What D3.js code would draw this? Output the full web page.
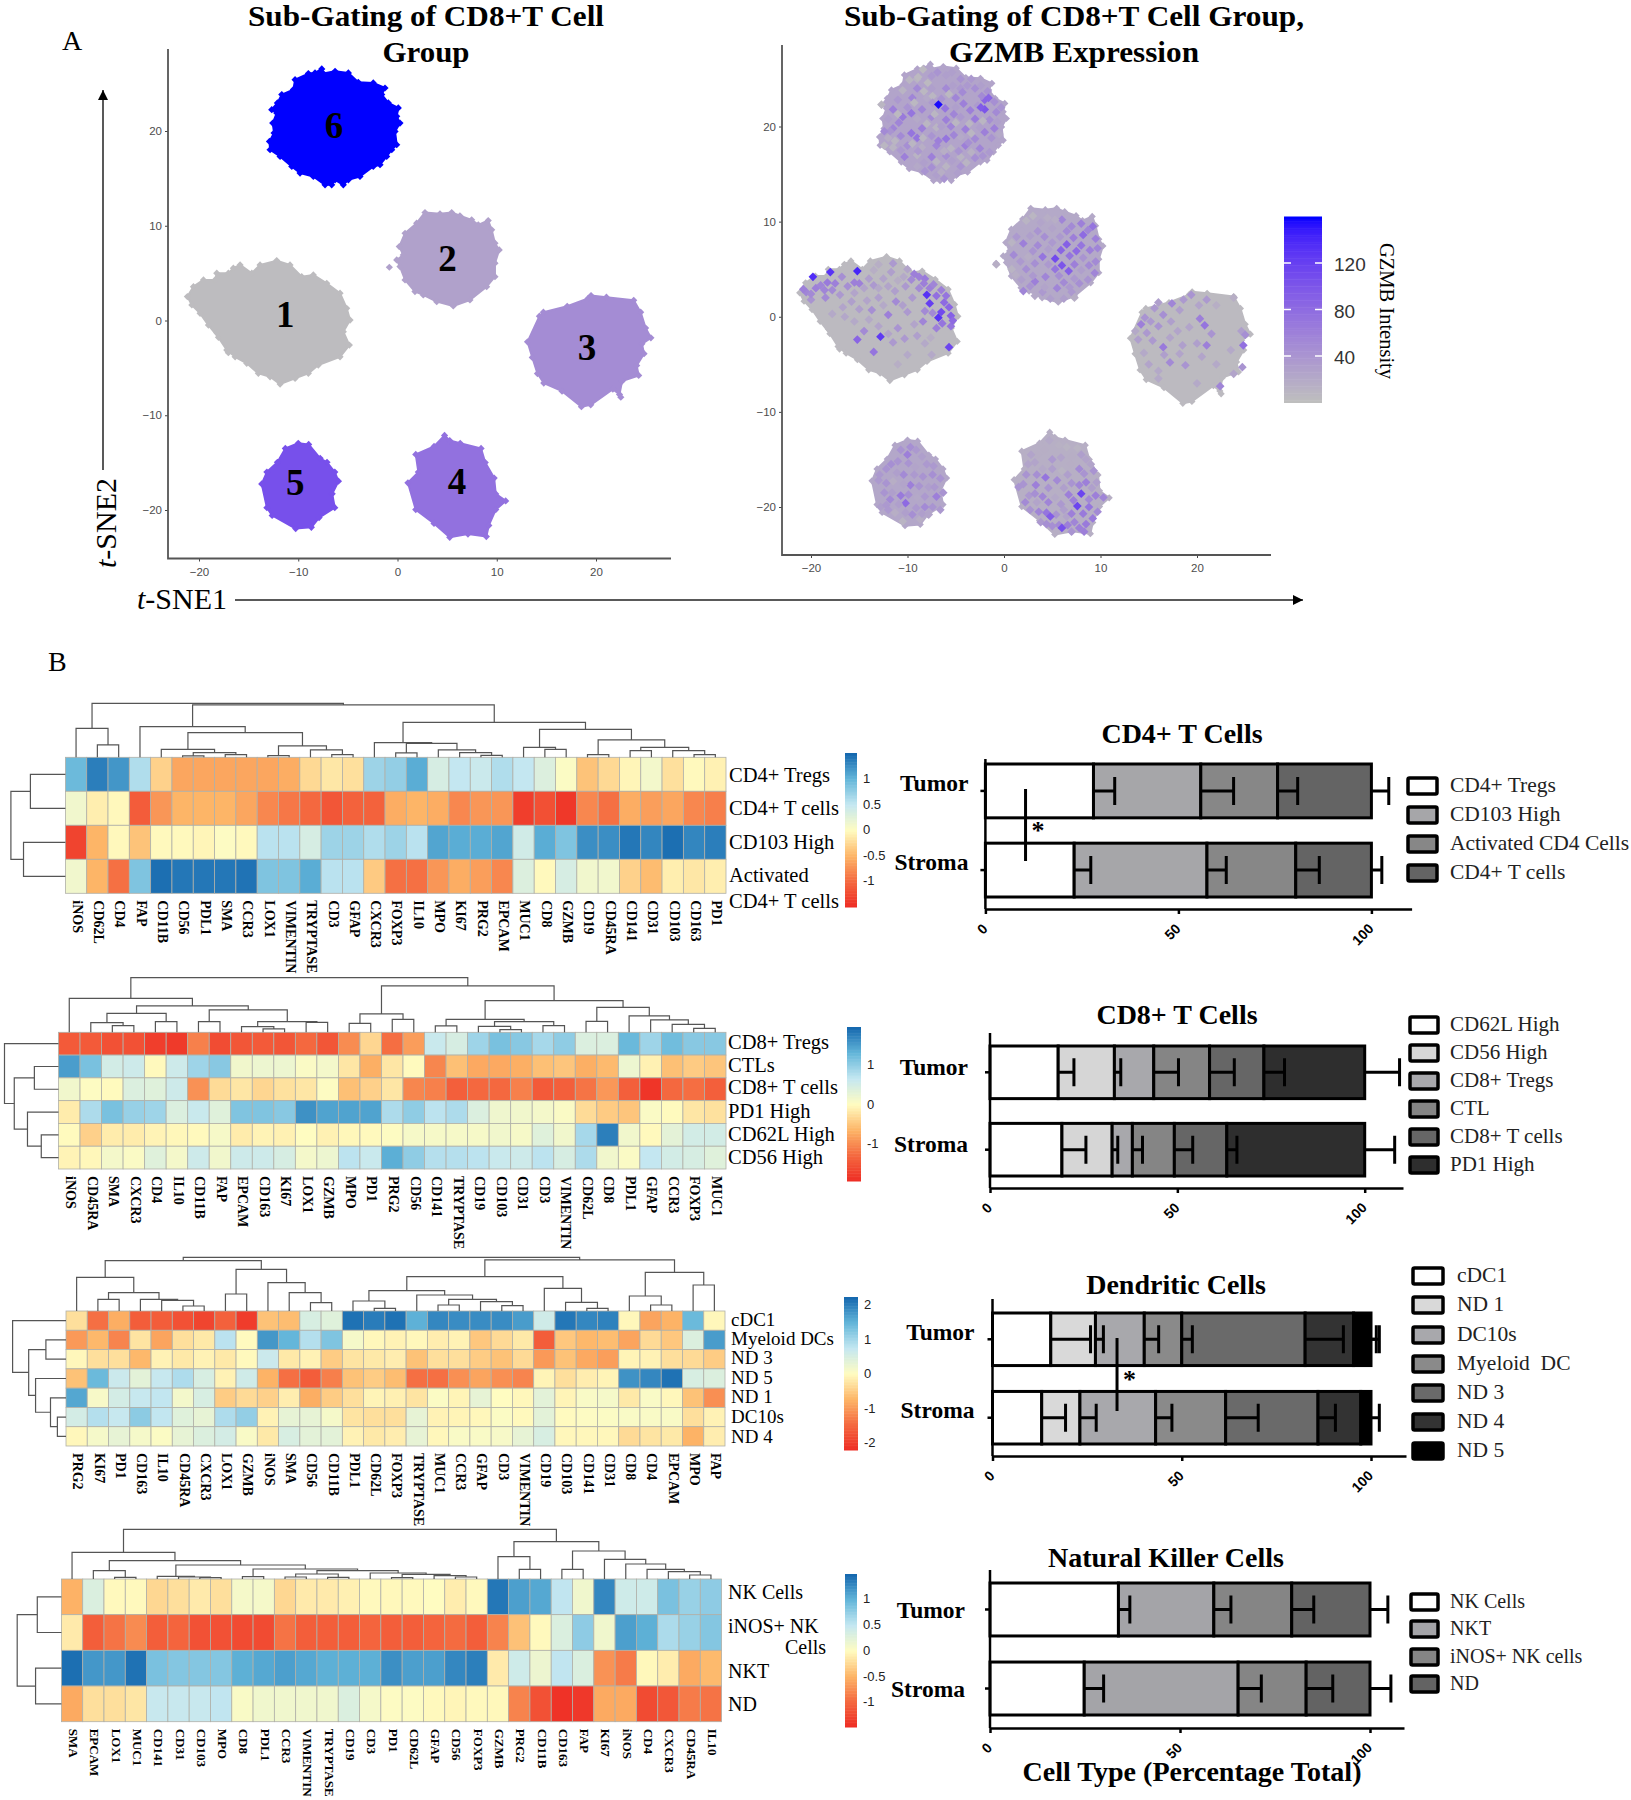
<!DOCTYPE html>
<html>
<head>
<meta charset="utf-8">
<title>CD8+ T cell sub-gating</title>
<script src="https://cdn.jsdelivr.net/npm/d3@7"></script>
<style>
body { margin: 0; background: #fff; }
text { font-family: "Liberation Serif", serif; fill: #000; }
.sans text, text.sans { font-family: "Liberation Sans", sans-serif; }
</style>
</head>
<body>
<svg id="fig" width="1631" height="1800"></svg>
<script>
// ---- panel A: t-SNE clusters, outlines (t-SNE1, t-SNE2)
const clusterOrder = [1, 2, 3, 4, 5, 6];
const outline1 = [[-21.17,2.52],[-20.56,3.57],[-19.55,4.28],[-18.38,4.28],[-18.21,4.99],[-17.04,4.99],[-16.54,5.52],[-15.86,5.87],[-14.68,4.99],[-13.85,5.87],[-12.17,6.32],[-10.83,5.87],[-9.65,4.63],[-8.48,4.81],[-7.13,3.93],[-5.79,2.88],[-5.12,1.29],[-4.78,0.05],[-5.46,-1.18],[-4.85,-2.59],[-5.79,-3.83],[-7.98,-4.7],[-8.98,-5.58],[-10.32,-6.11],[-11.83,-6.71],[-12.84,-5.94],[-14.02,-5.58],[-15.19,-4.52],[-16.36,-3.83],[-17.2,-3.12],[-18.04,-1.78],[-19.05,-0.48],[-19.89,0.76],[-20.72,1.64]];
const outline2 = [[2.77,11.4],[4.28,11.26],[5.46,11.4],[6.29,11.05],[7.47,10.62],[8.14,10.1],[9.14,10.55],[9.49,9.57],[9.82,8.16],[10.25,7.45],[9.82,6.05],[9.82,4.63],[8.98,3.57],[7.3,2.17],[5.62,1.53],[3.95,1.99],[2.6,2.7],[1.76,3.05],[0.76,4.28],[0.25,5.69],[-0.08,6.39],[0.58,6.92],[0.18,7.8],[0.76,9.21],[1.93,10.27]];
const outline3 = [[13.1,-2.25],[14.3,0.46],[14.7,0.88],[17.1,1.5],[19.2,2.33],[19.5,2.63],[21.05,2.46],[23.8,2.13],[24.5,0.88],[25,-0.79],[25.53,-1.83],[24.63,-2.46],[24.84,-3.5],[24.1,-4.75],[24.3,-5.8],[22.63,-6.4],[22.37,-7.8],[21.7,-7.25],[19.47,-8.9],[18.53,-9.1],[16.58,-7.46],[14.74,-6.6],[14.1,-5.6],[13.58,-3.9]];
const outline4 = [[4.74,-12.13],[5.26,-12.67],[6.32,-12.96],[8.42,-13.5],[8.84,-15],[9.74,-16.63],[9.9,-18.3],[10.9,-19.04],[9.9,-19.96],[9.2,-21.63],[8.95,-22.8],[7.1,-22.54],[5.26,-22.88],[3.68,-21.42],[1.84,-19.96],[1.05,-17.13],[2.1,-16],[1.84,-14.13],[3.68,-13.29]];
const outline5 = [[-10,-12.96],[-8.95,-13.08],[-7.79,-14.54],[-7.1,-14.96],[-6.32,-16],[-5.95,-16.96],[-6.58,-18.29],[-6.32,-19.75],[-7.9,-20.8],[-8.68,-21.83],[-10.26,-21.96],[-12.63,-20.58],[-13.16,-19.75],[-13.68,-17.25],[-13.16,-16],[-12.1,-14.96],[-11.3,-13.5]];
const outline6 = [[-7.63,26.55],[-7.47,26.06],[-6.29,26.3],[-4.95,26.13],[-3.95,25.14],[-2.44,25.07],[-1.26,24.54],[-1.59,23.84],[-0.92,22.96],[0.08,22.43],[-0.08,21.55],[0.25,20.84],[-0.25,19.96],[-0.08,18.55],[-0.58,18.02],[-1.09,17.32],[-1.76,16.44],[-2.44,16.26],[-3.78,15.2],[-4.95,14.85],[-5.46,14.32],[-6.29,14.85],[-6.63,14.32],[-7.3,14.32],[-8.48,15.2],[-9.82,15.56],[-10.65,16.26],[-11.83,17.32],[-12.84,18.02],[-12.9,18.9],[-12.44,19.79],[-12.57,20.84],[-12.17,21.9],[-12.67,22.25],[-12.1,22.96],[-11.66,23.84],[-10.49,24.37],[-10.32,25.42],[-8.98,26.06],[-8.31,26.13]];
const clusterOutlines = [outline1, outline2, outline3, outline4, outline5, outline6];
const clusterStrays = [[[-17.04,-3.4],[-18.2,-1.3]], [[-0.82,5.62]], [[22.5,-8.1]], [], [], []];
const clusterGzmb = [2, 28, 48, 74, 105, 158];       // cluster colour on the GZMB ramp
const clusterBaseGzmb = [4, 20, 4, 14, 22, 25];      // background tone, right hand map
const clusterLabelPos = [[-11.3,0.45],[5.05,6.3],[19.1,-3.1],[6,-17.25],[-10.3,-17.3],[-6.4,20.4]];

// GZMB spots seen in the right hand map: x, y, intensity
const spots1 = [[-20.5,2.6,55],[-19.5,3,60],[-18.3,3.6,65],[-16.8,4.2,45],[-15.5,3.6,60],[-14,4,30],[-20,1.8,40],[-18.5,2,50],[-17,2.3,35],[-15.5,2.5,25],[-13,5.5,15],[-11.5,5.6,35],[-10,5,25],[-12.5,4,25],[-11,3.8,15],[-9.3,4.5,60],[-8.2,4,65],[-7.7,3,60],[-7,2.2,75],[-6.2,1.5,80],[-5.5,0.1,90],[-5.5,-1,70],[-7,-1.2,60],[-8.8,3,50],[-9.5,2,35],[-13,2,30],[-11.2,1.6,50],[-13.7,0.7,45],[-12,0.2,60],[-10,0.5,35],[-15,0.8,30],[-16.7,1,25],[-17.8,0.3,20],[-15.5,-0.5,20],[-14.5,-1.5,50],[-13,-1,25],[-11,-1.2,40],[-9.3,-0.8,25],[-11.5,-2.7,35],[-8.2,-2.8,20],[-13.5,-3.7,70],[-10,-4,20],[-7.5,-4,20],[-11,-5,15],
  [-20.8,2.9,60],[-20,2.4,50],[-19,3.3,55],[-18.6,2.8,55],[-17.8,2.8,50],[-17.5,3.5,60],[-16.2,3.2,45],[-15,3.5,60],[-14.5,3,25],[-13.5,3.3,35],[-12,3.2,25],[-11.3,2.7,30],[-10.2,3.2,35],[-9.6,3.9,50],[-8.8,4.2,60],[-8.3,3.5,60],[-7.3,3.4,55],[-6.5,2.8,60],[-6,2.2,70],[-5.7,1,85],[-6.4,-0.7,70],[-7.4,0.4,50],[-8.2,0.6,50],[-8.4,-0.5,55],[-5.3,-0.4,80],[-13,3,20],[-15.8,1.6,30],[-14.2,1.7,25],[-12.5,1.2,20],[-10.5,1.2,30],[-16.5,0,22],[-14,-0.3,20],[-12,-1.8,25],[-10.3,-2.3,35],[-9,-2,30],[-7.6,-2.2,15],[-13.5,4.9,15],[-11.7,4.7,30],[-10.4,4.2,20],
  [-19.8,4.2,135],[-18,4.7,130],[-15.2,4.8,140],[-8,2.3,130],[-7.7,1.4,120],[-6.5,0.5,110],[-6.8,-0.1,130],[-12.8,-2.1,125],[-15.2,-2.4,85],[-5.7,-3.2,115]];
const spots2 = [[3,10.6,8],[4.5,10.4,15],[6,10.2,55],[8,9.8,60],[9.2,9.5,70],[1.8,9,20],[3.5,9,40],[5,9.3,25],[6.5,9,50],[8.2,8.6,80],[9.5,8.2,60],[0.8,7.8,10],[2,7.7,60],[3.5,7.5,50],[5,7.8,35],[6.5,7.6,90],[8,7.5,70],[9.7,7.2,55],[1,6.5,50],[2.5,6.3,15],[4,6.3,70],[5.3,6.1,110],[6.8,6.4,70],[8.2,6.2,40],[9.5,5.8,50],[-0.8,5.5,15],[0.8,5,10],[2.3,5,45],[3.8,4.8,20],[5.3,5,70],[6.7,4.8,90],[8,4.9,30],[9.4,4.6,55],[1.8,3.9,30],[3.2,3.7,60],[4.8,3.7,20],[6.2,3.6,50],[7.8,3.5,45],[2,2.7,55],[4,2.6,35],[5.5,2.3,20],[7,2.6,35],[7.3,2,15],
  [2.3,10.1,10],[3.8,9.9,25],[5.3,10.2,15],[7,9.5,50],[8.7,9.1,55],[7.2,8.3,60],[5.8,8.4,35],[4.2,8.4,45],[2.7,8.5,30],[1.3,8.4,35],[8.9,7,60],[7.5,6.9,80],[5.9,7,85],[4.6,7.1,30],[3,6.9,40],[1.7,5.8,35],[3.2,5.6,45],[4.6,5.5,35],[6,5.4,100],[7.3,5.5,60],[8.8,5.4,50],[1.2,4.4,15],[3,4.3,35],[4.3,4.2,55],[5.7,4.3,45],[7.3,4,35],[8.7,3.9,40],[2.7,3.2,40],[4.2,3.1,25],[5.5,3,55],[6.8,3.1,35],[3.2,2.2,20],[4.8,1.9,30],[6.2,1.9,30]];
const spots3 = [[15.6,0.9,35],[17.4,1.4,55],[19.4,2.3,40],[21,1.8,35],[23.8,2,15],[14.6,-0.1,40],[16.5,0.2,45],[18.2,0.7,30],[20.3,-0.2,60],[16,-1,40],[14.2,-0.8,60],[18,-1.5,25],[20.8,-0.9,70],[24.6,-1.5,30],[25,-1.9,45],[15.4,-2.5,35],[13.9,-2.4,30],[16.5,-3.2,65],[18.5,-3,30],[20,-2.8,30],[21,-3,60],[24.8,-3,75],[14.5,-3.8,20],[16.6,-4,30],[23.5,-3.5,20],[17.2,-4.8,50],[15,-5,25],[18.8,-5.1,40],[24.7,-5.3,40],[22,-5,20],[16,-6.5,20],[20,-7,20],[22.4,-7.3,55],[13.6,-1.5,20],
  [16,1.5,30],[18.6,1.8,35],[20.2,1.2,25],[22,1.2,15],[15.2,-0.5,35],[17.3,-0.5,30],[19.2,-1.1,25],[21.5,-1.8,40],[14.8,-1.7,35],[17.2,-2.2,25],[18.2,-3.9,25],[20.5,-4.2,25],[16,-5.7,20],[23.8,-6,25]];
const spots4 = [[4.7,-13,20],[6.5,-13.7,10],[3.5,-14.5,15],[5,-15,35],[7,-14.7,15],[8.5,-15,25],[2.5,-15.5,25],[4,-16,20],[6,-16.2,10],[7.8,-16,50],[9.3,-16.2,40],[4.3,-16.9,70],[5.5,-17.2,50],[2,-17.6,40],[3.3,-17.7,60],[7,-17.5,40],[8.5,-17.4,60],[2.6,-18.8,35],[4,-18.9,55],[5.3,-19,20],[6.7,-18.7,60],[9.5,-18.8,60],[10.3,-19,55],[2.7,-20.3,40],[4.4,-20.6,70],[6.2,-20.3,30],[8.8,-20,70],[9.7,-20.5,50],[3.8,-21.6,35],[5.7,-21.9,50],[7.3,-21.6,55],[8.5,-21.8,65],[7,-22.6,40],[8.3,-22.6,60],[3.4,-19.5,25],[6.5,-21,25],
  [5.7,-13.5,12],[4.2,-14,15],[7.6,-13.8,10],[2.8,-14.5,25],[5.9,-14.8,25],[8,-14.5,30],[3.2,-15.3,25],[5,-16,30],[6.9,-15.5,15],[9,-15.5,25],[2.3,-16.6,40],[3.4,-16.6,45],[6.6,-16.6,30],[8.3,-16.5,40],[9.6,-17.4,30],[4.6,-18,40],[6.2,-18,30],[7.8,-17.7,55],[9.1,-18,30],[1.5,-17.9,40],[3.2,-18.6,45],[4.6,-19.5,55],[5.9,-19.7,35],[7.2,-19.3,60],[8.8,-19.2,50],[2.2,-19.5,50],[3.6,-20.5,55],[5.4,-20.8,40],[7,-20.7,60],[8.2,-20.7,65],[9.2,-21.2,65],[5,-22,45],[6.6,-21.9,60],[7.8,-22.2,60],[4.4,-21.8,45],
  [8,-18.6,115],[4.8,-21,95],[7.6,-19.9,115],[6,-22.2,105]];
const spots5 = [[-9.7,-13.7,45],[-10,-14.5,60],[-8.5,-14.7,30],[-11,-15.2,40],[-9.2,-15.8,25],[-7.3,-15.7,35],[-12.2,-16,40],[-10.4,-16.6,50],[-8.4,-16.8,40],[-6.6,-17,40],[-13,-17.2,35],[-11.5,-17.3,15],[-9.7,-17.7,60],[-7.8,-17.9,30],[-12.4,-18.5,40],[-10.7,-18.8,65],[-9,-19,20],[-7,-18.9,60],[-12.8,-20,30],[-10.2,-19.6,80],[-8.2,-20,50],[-6.6,-20.3,35],[-11.3,-20.6,15],[-9.5,-20.8,45],[-10.5,-21.5,10],[-8.7,-21.3,15],[-11.8,-19.2,50],
  [-10.7,-14,40],[-9.1,-14,35],[-11.7,-15.5,45],[-9.9,-15.4,40],[-8,-15.5,35],[-12.9,-16.6,35],[-11.1,-16.4,30],[-9.3,-16.6,35],[-7.4,-16.6,45],[-12.2,-17.5,40],[-10.4,-17.6,25],[-8.8,-17.8,40],[-7.2,-17.9,35],[-11.6,-18.5,30],[-9.9,-18.7,45],[-8.2,-18.9,35],[-6.3,-18.5,40],[-12.2,-19.8,35],[-10.9,-19.7,30],[-9.1,-20.1,35],[-7.4,-20,40],[-10.2,-20.6,30],[-8.5,-20.7,30],[-7.8,-20.8,25],[-12,-20.3,35]];
const spots6 = [[-9,25,10],[-7.5,25.3,35],[-6,25.4,30],[-4.5,25,40],[-10.5,23.8,10],[-9,24,50],[-7.5,24,30],[-6,24,50],[-4.5,24,35],[-3,24,45],[-1.7,23.7,40],[-11,22.8,35],[-9.5,23,55],[-8,23,20],[-6.5,22.9,40],[-5,23,55],[-3.5,23,25],[-2,22.8,85],[-11.5,21.8,60],[-10,22,40],[-8.5,21.8,55],[-5,22,30],[-3.5,21.7,60],[-2,21.8,100],[-0.8,21.5,50],[-12,20.8,30],[-10.5,21,65],[-9,20.8,20],[-7.5,21,50],[-6,20.7,60],[-4.5,21,35],[-3,20.8,65],[-1.5,20.7,45],[-11.5,19.8,55],[-10,20,25],[-8.5,19.8,60],[-7,19.9,10],[-5.5,20,55],[-4,19.7,60],[-2.5,19.9,30],[-1,19.8,60],[-12,18.8,15],[-10.7,19,50],[-9,18.8,70],[-7.5,19,40],[-6,18.7,70],[-4.5,18.9,20],[-3,18.7,50],[-1.3,18.8,40],[-11.5,17.8,10],[-10,18,45],[-8.5,17.8,15],[-7,18,55],[-5.5,17.7,10],[-4,18,60],[-2.5,17.7,55],[-1.5,17.3,35],[-10.3,16.8,60],[-9,17,10],[-7.5,16.8,60],[-6,16.9,45],[-4.5,16.8,10],[-3,16.7,45],[-9,15.8,20],[-7.5,15.7,45],[-6,15.8,10],[-4.5,15.8,40],[-7,14.9,30],[-5.5,14.9,25],
  [-8.4,26,5],[-8.9,25.2,5],[-9.8,24.9,8],[-7.9,24.6,5],[-8.3,23.7,6],[-7.4,23.2,8],[-6.9,25.7,40],[-5.4,25.7,30],[-3.4,25,35],[-5.3,24.3,30],[-3.8,24.3,35],[-2.4,24.3,30],[-2.3,23.2,50],[-1.6,23,85],[-2.7,22.2,35],[-4.2,22.4,60],[-4.3,23.6,50],[-5.7,23.4,6],[-6.1,21.9,70],[-7.4,22.5,35],[-8,20.3,8],[-9.3,22.5,6],[-9.6,21.4,70],[-11,21.3,5],[-10.9,20.4,55],[-11.8,19.5,40],[-9.6,19.3,70],[-8.4,18.8,8],[-7.2,21.3,8],[-6.5,20,30],[-5.2,21.3,55],[-5,20.4,8],[-3.6,20.3,8],[-3.4,19.3,8],[-2,19.4,60],[-0.7,20.5,30],[-0.5,19.2,20],[-2.2,20.6,8],[-1,22.6,45],[-0.3,22,40],[-6.8,18.5,60],[-5.2,19.1,55],[-3.7,18.3,45],[-6.2,17.4,15],[-4.7,17.4,40],[-3.4,17.3,12],[-2.2,16.9,40],[-8.9,17.4,35],[-10.7,17.5,35],[-11.3,18.5,8],[-9.5,18.2,8],[-7.9,17.5,25],[-8.3,16.2,30],[-10,16.2,25],[-7,16.3,10],[-5.4,16.4,30],[-3.9,16.2,10],[-8.2,15.3,40],[-6.5,15.2,15],[-4.8,15.1,30],[-6.2,14.5,40],[-12.4,19.5,50],[-12.4,18,8],[-12.7,22.3,8],
  [-6.8,22.3,155],[-2.4,22,95]];
const allSpots = [spots1, spots2, spots3, spots4, spots5, spots6];
const tsneTicks = [-20, -10, 0, 10, 20];
const gzmbTicks = [40, 80, 120];

// ---- panel B: heatmaps
const heat1Cols = ["iNOS","CD62L","CD4","FAP","CD11B","CD56","PDL1","SMA","CCR3","LOX1","VIMENTIN","TRYPTASE","CD3","GFAP","CXCR3","FOXP3","IL10","MPO","KI67","PRG2","EPCAM","MUC1","CD8","GZMB","CD19","CD45RA","CD141","CD31","CD103","CD163","PD1"];
const heat1Rows = ["CD4+ Tregs","CD4+ T cells","CD103 High","Activated"];
const heat1Values = [
  [.95,1.35,1.2,.6,-.3,-.6,-.6,-.6,-.6,-.6,-.55,-.25,-.15,-.2,.7,.75,1.05,.35,.5,.45,.6,.5,.3,.03,-.4,-.25,-.05,.1,-.2,-.02,-.08],
  [.12,-.1,-.03,-1.1,-.7,-.5,-.5,-.5,-.6,-.8,-.9,-1,-1.15,-1.05,-1.05,-.55,-.5,-.55,-.8,-.7,-.7,-1.35,-1.2,-1.4,-.8,-.95,-.55,-.65,-.6,-.8,-.85],
  [-1.3,-.5,-.03,-.4,-.02,-.02,-.05,.02,-.02,.55,.55,.35,.7,.7,.6,.7,.55,1.1,1.05,1.05,1.1,.4,1.05,.85,1.25,1.25,1.4,1.3,1.45,1.3,1.35],
  [.12,-.5,-.95,.85,1.45,1.4,1.4,1.4,1.42,.85,.85,1.05,.55,.55,-.35,-.95,-.95,-.7,-.55,-.65,-.8,.3,-.02,.35,.12,.12,-.3,-.45,-.1,-.15,-.1]
];
const heat1ColTree = [162,[87,0,[37,1,2]],[157,[92,3,[74,[24,4,[14,[4,5,6],[8,7,8]]],[34,[5,9,10],[22,11,[8,12,13]]]]],[105,[44,14,[42,[13,15,16],[22,17,[14,18,[6,19,20]]]]],[84,[30,21,[24,22,23]],[52,[8,24,25],[30,[20,26,27],[20,28,[8,29,30]]]]]]]];
const heat1RowTree = [95,[61,0,1],[73,2,3]];
const heat1Ticks = [-1,-.5,0,.5,1];

const heat2Cols = ["iNOS","CD45RA","SMA","CXCR3","CD4","IL10","CD11B","FAP","EPCAM","CD163","KI67","LOX1","GZMB","MPO","PD1","PRG2","CD56","CD141","TRYPTASE","CD19","CD103","CD31","CD3","VIMENTIN","CD62L","CD8","PDL1","GFAP","CCR3","FOXP3","MUC1"];
const heat2Rows = ["CD8+ Tregs","CTLs","CD8+ T cells","PD1 High","CD62L High","CD56 High"];
const heat2Values = [
  [-1.45,-1.45,-1.55,-1.55,-1.75,-1.8,-1.1,-1.6,-1.5,-1.45,-1.5,-1.3,-1.5,-1,-.35,-1.25,-.85,.6,.45,.9,1.15,1.05,.85,1,.4,.4,1.25,.9,1.2,1.05,1.05],
  [1.5,1.15,.5,.55,-.03,.55,.9,1.05,.15,.2,.2,.05,.12,-.2,-.7,-.2,-.02,-1.05,-.55,-.75,-.75,-.7,-.55,-.5,-.7,-.6,.2,-.1,-.55,-.45,-.5],
  [.15,.02,-.02,.4,.35,.55,-.95,-.3,-.2,-.35,-.25,-.2,.02,-.55,-.4,-.2,-1.05,-1.1,-1.4,-1.3,-1.3,-1.1,-1.45,-1.4,-1.2,-.9,-1.4,-1.85,-1.3,-1.25,-1.4],
  [-.15,.8,1.15,.95,.9,.4,.6,.35,1.1,1.1,1.05,1.6,1.45,1.45,1.45,.8,1,.7,.8,.4,.18,.15,.12,.05,-.3,-.45,-.5,.05,-.02,-.2,-.25],
  [-.02,-.4,-.15,-.15,-.08,-.05,-.03,.1,-.15,-.08,-.1,0,-.1,-.05,-.03,.02,.1,.1,.1,.1,.15,.1,.35,.15,.85,1.75,.15,-.03,.3,.5,.5],
  [-.08,-.05,.12,.05,.35,.12,.55,.15,.55,.55,.45,.12,.2,.7,.6,1.35,1,.75,.75,.7,.6,.55,.7,.45,.8,.15,.05,.65,.5,.45,.35]
];
const heat2ColTree = [164,[102,0,[79,[57,[29,1,[20,2,3]],[32,4,5]],[67,[32,6,7],[32,[17,8,[10,9,10]],[30,11,12]]]]],[139,[55,[27,13,14],[39,15,16]],[95,[39,[19,17,18],[32,[18,19,[8,20,21]],[20,22,23]]],[75,[33,24,25],[49,26,[37,27,[24,28,[12,29,30]]]]]]]];
const heat2RowTree = [94,0,[77,[42,1,2],[54,3,[30,4,5]]]];
const heat2Ticks = [-1,0,1];

const heat3Cols = ["PRG2","KI67","PD1","CD163","IL10","CD45RA","CXCR3","LOX1","GZMB","iNOS","SMA","CD56","CD11B","PDL1","CD62L","FOXP3","TRYPTASE","MUC1","CCR3","GFAP","CD3","VIMENTIN","CD19","CD103","CD141","CD31","CD8","CD4","EPCAM","MPO","FAP"];
const heat3Rows = ["cDC1","Myeloid DCs","ND 3","ND 5","ND 1","DC10s","ND 4"];
const heat3Values = [
  [-.3,-1.4,-.8,-1.6,-1.6,-1.75,-1.9,-1.55,-2,-.6,-.65,.5,.4,2.1,2,2.1,1.5,1.9,1.85,1.85,1.85,1.7,.6,2.05,1.9,1.95,-.05,-.9,-.75,1.4,-.05],
  [-1,-.7,-1.2,-.25,-.9,-.3,-.2,.8,-.02,1.75,1.45,.85,1.25,.12,-.05,-.1,-.05,-.15,-.1,-.55,-.35,-.2,-1.6,-.55,-.7,-.65,-.9,-.35,-.55,.45,1.7],
  [-.05,-.3,-.3,-.7,-.1,-.2,-.1,-.2,-.03,.65,-.2,-.1,-.5,-.25,-.2,-.15,-.6,-.3,-.3,-.5,-.6,-.35,-1,-.6,-.85,-.95,-.08,-.1,-.3,-.35,-.5],
  [-.6,1.4,.65,.35,.7,.9,.5,-.1,.6,-.75,-1.4,-1.6,-1.25,-.6,-.5,-.65,-1.4,-1.4,-1.1,-.9,-1.1,-1.2,-.08,-.3,-.15,-.08,1.8,1.9,2.1,.5,.45],
  [1.6,.1,.55,.7,.75,.15,.5,-.5,-.35,-.45,-.15,-.8,-.5,-.3,-.08,-.12,-.25,.05,-.08,.3,0,-.05,.35,-.08,.08,.12,-.2,.08,-.05,-.6,-1.1],
  [.55,.85,.7,1.15,.75,.4,.3,.9,1.1,-.1,.3,.3,.12,-.25,-.3,-.3,.3,-.1,-.08,-.05,.05,-.03,.35,-.02,.03,.05,.08,.08,.08,-.3,-.1],
  [-.05,.12,.3,.12,.05,.3,.45,.55,.08,-.2,.5,.35,.35,-.1,-.2,-.15,.3,-.05,.08,.08,.1,.3,.5,-.05,-.05,-.05,-.35,-.25,-.2,-.75,-.15]
];
const heat3ColTree = [161,[151,[101,0,[55,[35,1,2],[35,3,[32,4,[15,5,6]]]]],[125,[51,7,8],[85,9,[55,10,[25,11,12]]]]],[153,[103,[61,[30,13,[8,14,15]],[48,16,[35,[18,17,18],[28,19,[16,20,21]]]]],[68,22,[26,23,[8,24,25]]]],[116,[45,26,[18,27,28]],[78,29,30]]]];
const heat3RowTree = [93,0,[65,[35,1,2],[53,3,[27,4,[15,5,6]]]]];
const heat3Ticks = [-2,-1,0,1,2];

const heat4Cols = ["SMA","EPCAM","LOX1","MUC1","CD141","CD31","CD103","MPO","CD8","PDL1","CCR3","VIMENTIN","TRYPTASE","CD19","CD3","PD1","CD62L","GFAP","CD56","FOXP3","GZMB","PRG2","CD11B","CD163","FAP","KI67","iNOS","CD4","CXCR3","CD45RA","IL10"];
const heat4Rows = ["NK Cells","iNOS+ NK","NKT","ND"];
const heat4Values = [
  [-.5,.3,-.02,-.02,-.25,-.2,-.12,-.2,.08,.08,-.25,-.12,-.12,-.08,-.02,-.03,-.02,0,-.1,-.02,1.35,1.1,1.05,.5,.12,1.25,.4,.4,.85,.7,.75],
  [-.12,-1.05,-.9,-.75,-1.05,-1,-1.15,-1.15,-1.2,-1.2,-.9,-1.05,-1.05,-1.05,-1,-1.05,-1.05,-1,-.95,-1.05,-.8,-.4,-.02,.3,.75,.12,1.1,1,.6,.7,.8],
  [1.4,1.15,1.15,1.38,.85,.8,.8,.8,1,1.05,1.1,1.05,1,1,1,1.2,1.1,1.1,1.25,1.3,-.12,.4,.15,.5,.3,-.7,-.85,-.03,-.1,-.55,-.45],
  [-.55,-.2,-.2,-.15,.45,.45,.45,.5,.05,.12,.12,.12,.12,.3,.08,.02,.02,-.02,-.05,-.02,-.03,-.8,-1.15,-1.4,-1.35,-.55,-.55,-1.2,-1.1,-.85,-.9]
];
const heat4ColTree = [149,[80,0,[55,[25,1,[5,2,3]],[42,[8,4,[6,5,[4,6,7]]],[30,[7,8,9],[25,[15,[6,10,11],[5,12,13]],[18,14,[14,[4,15,16],[10,17,[6,18,19]]]]]]]]],[112,[67,20,[29,21,22]],[84,[29,23,24],[59,25,[45,26,[29,27,[22,28,[12,29,30]]]]]]]];
const heat4RowTree = [77,[42,0,1],[45,2,3]];
const heat4Ticks = [-1,-.5,0,.5,1];

// ---- panel B: stacked bars, percent of total and error bars
const bar1Series = ["CD4+ Tregs","CD103 High","Activated CD4 Cells","CD4+ T cells"];
const bar1Tumor = [28,27.8,19.9,24.3];
const bar1TumorErr = [5.5,8.5,5.2,4.5];
const bar1Stroma = [23,34.4,23,19.6];
const bar1StromaErr = [4.3,5,6.1,2.7];
const bar2Series = ["CD62L High","CD56 High","CD8+ Tregs","CTL","CD8+ T cells","PD1 High"];
const bar2Tumor = [18.2,15,10.5,14.9,14.5,26.9];
const bar2TumorErr = [4.2,1.7,6.6,6.6,5.5,9.3];
const bar2Stroma = [19.2,13.4,5.4,11.2,14,36.8];
const bar2StromaErr = [6.4,1.5,2.7,4.9,2.7,8];
const bar3Series = ["cDC1","ND 1","DC10s","Myeloid  DC","ND 3","ND 4","ND 5"];
const bar3Tumor = [15.4,11.8,12.9,9.9,32.6,12.8,4.6];
const bar3TumorErr = [10.5,2.1,3.8,2.8,10.1,6,2.2];
const bar3Stroma = [13,10.1,20,18.5,24.4,11.3,2.7];
const bar3StromaErr = [6.3,4.3,4.3,8.6,4.6,2,2.2];
const bar4Series = ["NK Cells","NKT","iNOS+ NK cells","ND"];
const bar4Tumor = [33.8,25.1,20.5,20.6];
const bar4TumorErr = [3,4.5,5.8,4.7];
const bar4Stroma = [24.8,40.5,17.9,16.8];
const bar4StromaErr = [5.1,6.1,7,5.5];
const barGroups = ["Tumor","Stroma"];
const barTicks = [0,50,100];

const svg = d3.select("#fig");

// ---- helpers
function txt(parent, x, y, s, size, opts) {
  opts = opts || {};
  const t = parent.append("text").attr("x", x).attr("y", y).text(s)
    .attr("font-size", size)
    .attr("dominant-baseline", "middle")
    .attr("text-anchor", opts.anchor || "start")
    .attr("font-weight", opts.bold ? "bold" : null)
    .attr("font-style", opts.italic ? "italic" : null);
  if (opts.stretch) t.attr("textLength", opts.stretch).attr("lengthAdjust", "spacingAndGlyphs");
  if (opts.rotate != null) t.attr("transform", `rotate(${opts.rotate},${x},${y})`);
  return t;
}
function arrowLine(x1, y1, x2, y2) {
  svg.append("line").attr("x1", x1).attr("y1", y1).attr("x2", x2).attr("y2", y2)
    .attr("stroke", "#222").attr("stroke-width", 1.5);
  const a = Math.atan2(y2 - y1, x2 - x1) * 180 / Math.PI;
  svg.append("path").attr("d", "M-10,-5L0,0L-10,5Z").attr("fill", "#000")
    .attr("transform", `translate(${x2},${y2}) rotate(${a})`);
}

// ---- panel A
const gzmbColor = d3.scaleLinear().domain([0, 158]).range(["#bebebe", "#0000ff"]).interpolate(d3.interpolateLab);
const square = d3.symbol().type(d3.symbolSquare);
function diamonds(g, pts, size, x, y, fill) {
  g.selectAll(null).data(pts).enter().append("path")
    .attr("d", square.size(size)())
    .attr("transform", d => `translate(${x(d[0])},${y(d[1])}) rotate(45)`)
    .attr("fill", fill);
}

function tsnePanel(box, drawMarks) {
  const x = d3.scaleLinear().domain([-20, 20]).range([box.x20n, box.x20p]);
  const y = d3.scaleLinear().domain([-20, 20]).range([box.y20n, box.y20p]);
  const g = svg.append("g");
  drawMarks(g, x, y);
  const xa = g.append("g").attr("class", "sans").attr("transform", `translate(0,${box.bottom})`)
    .call(d3.axisBottom(x).tickValues(tsneTicks).tickSize(3).tickPadding(6));
  const ya = g.append("g").attr("class", "sans").attr("transform", `translate(${box.left},0)`)
    .call(d3.axisLeft(y).tickValues(tsneTicks).tickSize(3).tickPadding(3));
  [xa, ya].forEach(a => {
    a.select(".domain").remove();
    a.selectAll("text").attr("font-size", 11.5).style("fill", "#4d4d4d").attr("font-family", "Liberation Sans");
    a.selectAll("line").attr("stroke", "#444");
  });
  g.append("path").attr("d", `M${box.left},${box.top}V${box.bottom}H${box.right}`)
    .attr("fill", "none").attr("stroke", "#555").attr("stroke-width", 1.8);
}

const line = d3.line().curve(d3.curveLinearClosed);

tsnePanel({ left: 168, right: 671, top: 49, bottom: 558.5, x20n: 199, x20p: 596, y20n: 510, y20p: 131 }, (g, x, y) => {
  clusterOutlines.forEach((o, i) => {
    const c = gzmbColor(clusterGzmb[i]);
    g.append("path").attr("d", line(o.map(p => [x(p[0]), y(p[1])])))
      .attr("fill", c).attr("stroke", c).attr("stroke-width", 2).attr("stroke-linejoin", "round");
    diamonds(g, o, 26, x, y, c);
    diamonds(g, clusterStrays[i], 26, x, y, c);
  });
  clusterOrder.forEach((n, i) => {
    txt(g, x(clusterLabelPos[i][0]), y(clusterLabelPos[i][1]) + 2, n, 37, { anchor: "middle", bold: true });
  });
});

tsnePanel({ left: 782, right: 1271, top: 45, bottom: 555, x20n: 811, x20p: 1197, y20n: 507, y20p: 126.5 }, (g, x, y) => {
  clusterOutlines.forEach((o, i) => {
    const c = gzmbColor(clusterBaseGzmb[i]);
    g.append("path").attr("d", line(o.map(p => [x(p[0]), y(p[1])])))
      .attr("fill", c).attr("stroke", c).attr("stroke-width", 2).attr("stroke-linejoin", "round");
    diamonds(g, o, 26, x, y, c);
    diamonds(g, clusterStrays[i], 26, x, y, c);
    diamonds(g, allSpots[i], 38, x, y, d => gzmbColor(d[2]));
  });
});

// GZMB colour bar
const gzmbY = d3.scaleLinear().domain([40, 120]).range([356, 263]);
svg.selectAll(null).data(d3.range(0, 159, 2)).enter().append("rect")
  .attr("x", 1284).attr("width", 38)
  .attr("y", d => gzmbY(d + 2)).attr("height", d => gzmbY(d) - gzmbY(d + 2) + 0.5)
  .attr("fill", d => gzmbColor(d));
gzmbTicks.forEach(v => {
  svg.append("line").attr("x1", 1284).attr("x2", 1291).attr("y1", gzmbY(v)).attr("y2", gzmbY(v)).attr("stroke", "#fff").attr("stroke-width", 1.5);
  svg.append("line").attr("x1", 1315).attr("x2", 1322).attr("y1", gzmbY(v)).attr("y2", gzmbY(v)).attr("stroke", "#fff").attr("stroke-width", 1.5);
  txt(svg, 1334, gzmbY(v) + 3, v, 19).attr("class", "sans").style("fill", "#333");
});
txt(svg, 1385, 311, "GZMB Intensity", 20.5, { anchor: "middle", rotate: 90 });

// titles and axis arrows
txt(svg, 426, 19, "Sub-Gating of CD8+T Cell", 29, { anchor: "middle", bold: true, stretch: 356 });
txt(svg, 426, 55, "Group", 30, { anchor: "middle", bold: true, stretch: 87 });
txt(svg, 1074, 19, "Sub-Gating of CD8+T Cell Group,", 29, { anchor: "middle", bold: true, stretch: 460 });
txt(svg, 1074, 55, "GZMB Expression", 30, { anchor: "middle", bold: true, stretch: 250 });
txt(svg, 62, 44, "A", 28);
txt(svg, 48, 665, "B", 28);
arrowLine(103, 470, 103, 90);
arrowLine(235, 600, 1303, 600);
const ty = txt(svg, 109, 523, "", 30, { anchor: "middle", rotate: -90 });
ty.append("tspan").attr("font-style", "italic").text("t");
ty.append("tspan").text("-SNE2");
const tx = txt(svg, 182, 602, "", 30, { anchor: "middle" });
tx.append("tspan").attr("font-style", "italic").text("t");
tx.append("tspan").text("-SNE1");

// ---- heatmaps
const heatStops = ["#ee2c24", "#f4683f", "#fdb567", "#fffcc1", "#c4e7f1", "#62b5d9", "#1467ae"];
function dendro(g, tree, pos, place) {
  // tree is [height, left, right], a leaf is a plain index
  const segs = [];
  (function walk(t) {
    if (typeof t === "number") return { p: pos(t), h: 0 };
    const a = walk(t[1]), b = walk(t[2]);
    segs.push([a.p, a.h, t[0], b.p, b.h]);
    return { p: (a.p + b.p) / 2, h: t[0] };
  })(tree);
  g.selectAll(null).data(segs).enter().append("path")
    .attr("d", s => {
      const P = (p, h) => place(p, h).join(",");
      return `M${P(s[0], s[1])}L${P(s[0], s[2])}L${P(s[3], s[2])}L${P(s[3], s[4])}`;
    })
    .attr("fill", "none").attr("stroke", "#555").attr("stroke-width", 1.2);
}

function heatmap(cfg) {
  const g = svg.append("g");
  const x = d3.scaleBand().domain(cfg.cols).range([cfg.x0, cfg.x1]);
  const y = d3.scaleBand().domain(cfg.rows).range([cfg.y0, cfg.y1]);
  const z = cfg.zMax;
  const color = d3.scaleLinear().domain(heatStops.map((c, i) => -z + i * z / 3)).range(heatStops);
  const cells = cfg.values.flatMap((r, i) => r.map((v, j) => ({ r: cfg.rows[i], c: cfg.cols[j], v })));
  g.selectAll("rect").data(cells).enter().append("rect")
    .attr("x", d => x(d.c)).attr("y", d => y(d.r))
    .attr("width", x.bandwidth()).attr("height", y.bandwidth())
    .attr("fill", d => color(d.v)).attr("stroke", "#b0b0a8").attr("stroke-width", 0.8);

  cfg.cols.forEach(c => {
    const cx = x(c) + x.bandwidth() / 2;
    g.append("text").attr("transform", `translate(${cx},${cfg.y1 + 7}) rotate(90)`).text(c)
      .attr("font-size", cfg.colFont || 14).attr("font-weight", "bold").attr("dominant-baseline", "middle");
  });
  cfg.rows.forEach((r, i) => txt(g, cfg.labelX, cfg.labelY[i], r, cfg.labelFont));
  (cfg.extra || []).forEach(e => txt(g, e[0], e[1], e[2], cfg.labelFont));

  const topH = d3.scaleLinear().domain([0, cfg.colTree[0]]).range([0, cfg.colPx]);
  dendro(g, cfg.colTree, i => x(cfg.cols[i]) + x.bandwidth() / 2, (p, h) => [p, cfg.y0 - topH(h)]);
  const leftH = d3.scaleLinear().domain([0, cfg.rowTree[0]]).range([0, cfg.rowPx]);
  dendro(g, cfg.rowTree, i => y(cfg.rows[i]) + y.bandwidth() / 2, (p, h) => [cfg.x0 - leftH(h), p]);

  // colour bar: cbTicks holds pixel y of the first and last tick
  const cbY = d3.scaleLinear().domain([cfg.ticks[0], cfg.ticks[cfg.ticks.length - 1]]).range(cfg.cbTicks);
  const top = cbY.invert(cfg.cbTop), bot = cbY.invert(cfg.cbBottom);
  const barColor = d3.scaleLinear().domain(heatStops.map((c, i) => bot + i * (top - bot) / 6)).range(heatStops);
  g.selectAll(null).data(d3.range(100)).enter().append("rect")
    .attr("x", cfg.cbX).attr("width", cfg.cbW)
    .attr("y", i => cfg.cbBottom - (i + 1) * (cfg.cbBottom - cfg.cbTop) / 100)
    .attr("height", (cfg.cbBottom - cfg.cbTop) / 100 + 0.5)
    .attr("fill", i => barColor(bot + (i + 0.5) * (top - bot) / 100));
  cfg.ticks.forEach(v => txt(g, cfg.cbX + cfg.cbW + 6, cbY(v), String(v), 13).attr("class", "sans").style("fill", "#222"));
}

heatmap({ cols: heat1Cols, rows: heat1Rows, values: heat1Values, colTree: heat1ColTree, rowTree: heat1RowTree, ticks: heat1Ticks,
  zMax: 1.5, x0: 65.4, x1: 726, y0: 757.3, y1: 893.3, colPx: 54, rowPx: 54.5, labelX: 729, labelFont: 20.5,
  labelY: [777, 810, 844, 877], extra: [[729, 903, "CD4+ T cells"]],
  cbX: 845, cbW: 12, cbTop: 753, cbBottom: 907, cbTicks: [882, 780] });
heatmap({ cols: heat2Cols, rows: heat2Rows, values: heat2Values, colTree: heat2ColTree, rowTree: heat2RowTree, ticks: heat2Ticks,
  zMax: 1.95, x0: 58.5, x1: 726, y0: 1032.3, y1: 1169, colPx: 54.7, rowPx: 54, labelX: 728, labelFont: 20.5,
  labelY: [1044.5, 1067.5, 1089.5, 1113, 1136.5, 1159],
  cbX: 847, cbW: 14, cbTop: 1027, cbBottom: 1181, cbTicks: [1145, 1066] });
heatmap({ cols: heat3Cols, rows: heat3Rows, values: heat3Values, colTree: heat3ColTree, rowTree: heat3RowTree, ticks: heat3Ticks,
  zMax: 2.2, x0: 66, x1: 725, y0: 1311, y1: 1446, colPx: 53.7, rowPx: 53.4, labelX: 731, labelFont: 19,
  labelY: [1322, 1341, 1360, 1380, 1399, 1419, 1439],
  cbX: 844, cbW: 14, cbTop: 1297, cbBottom: 1450, cbTicks: [1444, 1306] });
heatmap({ cols: heat4Cols, rows: heat4Rows, values: heat4Values, colTree: heat4ColTree, rowTree: heat4RowTree, ticks: heat4Ticks,
  zMax: 1.45, x0: 61.4, x1: 721.6, y0: 1579, y1: 1721.7, colPx: 49.7, rowPx: 44.2, labelX: 728, labelFont: 20, colFont: 13,
  labelY: [1594, 1628, 1673, 1706], extra: [[785, 1649, "Cells"]],
  cbX: 845, cbW: 12, cbTop: 1574, cbBottom: 1727, cbTicks: [1703, 1600] });

// ---- stacked bars
function stackedBar(cfg) {
  const g = svg.append("g");
  const x = d3.scaleLinear().domain([0, 100]).range([cfg.x0, cfg.x100]);
  const y = d3.scaleBand().domain(barGroups).range([cfg.bandTop, cfg.bandBottom]).paddingInner(cfg.gap);
  const table = barGroups.map((b, i) => {
    const row = { group: b };
    cfg.series.forEach((s, k) => { row[s] = cfg.values[i][k]; });
    return row;
  });
  const stacked = d3.stack().keys(cfg.series)(table);
  stacked.forEach((layer, k) => {
    g.selectAll(null).data(layer).enter().append("rect")
      .attr("x", d => x(d[0])).attr("width", d => x(d[1]) - x(d[0]))
      .attr("y", d => y(d.data.group)).attr("height", y.bandwidth())
      .attr("fill", cfg.colors[k]).attr("stroke", "#000").attr("stroke-width", 3);
  });
  // error bars start at the right end of every segment
  stacked.forEach((layer, k) => {
    layer.forEach((d, i) => {
      const end = d[1] + cfg.errors[i][k];
      const yc = y(d.data.group) + y.bandwidth() / 2;
      g.append("path").attr("d", `M${x(d[1])},${yc}H${x(end)}M${x(end)},${yc - 14}V${yc + 14}`)
        .attr("fill", "none").attr("stroke", "#000").attr("stroke-width", 3);
    });
  });

  const axisEnd = x.invert(cfg.xEnd);
  const xAxis = d3.scaleLinear().domain([0, axisEnd]).range([cfg.x0, cfg.xEnd]);
  const ax = g.append("g").attr("transform", `translate(0,${cfg.axisY})`)
    .call(d3.axisBottom(xAxis).tickValues(barTicks).tickSize(5).tickSizeOuter(0));
  ax.selectAll("path,line").attr("stroke", "#000").attr("stroke-width", 2.5);
  ax.selectAll("text").attr("class", "sans").attr("font-family", "Liberation Sans").attr("font-size", 14).attr("font-weight", "bold")
    .style("fill", "#000").attr("text-anchor", "end").attr("dominant-baseline", "middle")
    .attr("x", 0).attr("y", 0).attr("dy", 0).attr("transform", "translate(0,18) rotate(-45)");

  const ay = g.append("g").attr("transform", `translate(${cfg.x0},0)`)
    .call(d3.axisLeft(y).tickSize(5).tickSizeOuter(0).tickPadding(cfg.labelPad));
  ay.select(".domain").remove();
  ay.selectAll("line").attr("stroke", "#000").attr("stroke-width", 2.5);
  ay.selectAll("text").attr("font-size", 23.5).attr("font-weight", "bold").attr("font-family", "Liberation Serif").style("fill", "#000")
    .attr("dominant-baseline", "middle").attr("dy", 0).attr("y", cfg.labelDy);
  g.append("line").attr("x1", cfg.x0).attr("x2", cfg.x0).attr("y1", cfg.axisTop).attr("y2", cfg.axisY).attr("stroke", "#000").attr("stroke-width", 2.5);

  txt(g, cfg.titleX, cfg.titleY, cfg.title, 28, { anchor: "middle", bold: true });

  if (cfg.sig != null) {
    g.append("line").attr("x1", x(cfg.sig)).attr("x2", x(cfg.sig)).attr("y1", cfg.sigY[0]).attr("y2", cfg.sigY[1]).attr("stroke", "#000").attr("stroke-width", 3);
    txt(g, x(cfg.sig) + 6, cfg.sigY[0] + 44, "*", 26, { bold: true });
  }

  cfg.series.forEach((s, k) => {
    const ly = cfg.legendY[k];
    g.append("rect").attr("x", cfg.legendX).attr("y", ly - 8).attr("width", cfg.legendW).attr("height", 16).attr("rx", 1.5)
      .attr("fill", cfg.colors[k]).attr("stroke", "#000").attr("stroke-width", 3.5);
    txt(g, cfg.legendTextX, ly + 1, s, cfg.legendFont).style("fill", "#222").style("white-space", "pre");
  });
}

const grey4 = ["#ffffff", "#a6a6a9", "#878787", "#646464"];
stackedBar({ title: "CD4+ T Cells", series: bar1Series, values: [bar1Tumor, bar1Stroma], errors: [bar1TumorErr, bar1StromaErr], colors: grey4,
  x0: 985.4, x100: 1371.4, xEnd: 1411.6, axisY: 909, axisTop: 759, bandTop: 764, bandBottom: 897, gap: 0.32,
  titleX: 1182, titleY: 737, sig: 10.4, sigY: [789, 861], labelDy: -5, labelPad: 12, legendFont: 21.5,
  legendX: 1408, legendW: 29, legendTextX: 1450, legendY: [786, 815, 844, 873] });
stackedBar({ title: "CD8+ T Cells", series: bar2Series, values: [bar2Tumor, bar2Stroma], errors: [bar2TumorErr, bar2StromaErr],
  colors: ["#ffffff", "#d6d6d6", "#a8a8ac", "#858585", "#666666", "#2e2e2e"],
  x0: 990, x100: 1364.7, xEnd: 1403, axisY: 1188, axisTop: 1033, bandTop: 1046, bandBottom: 1176, gap: 0.32,
  titleX: 1177, titleY: 1018, labelDy: -3, labelPad: 17, legendFont: 21,
  legendX: 1410, legendW: 28, legendTextX: 1450, legendY: [1025, 1053, 1081, 1109, 1137, 1165] });
stackedBar({ title: "Dendritic Cells", series: bar3Series, values: [bar3Tumor, bar3Stroma], errors: [bar3TumorErr, bar3StromaErr],
  colors: ["#ffffff", "#d9d9d9", "#a8a8ac", "#8a8a8a", "#6a6a6a", "#333333", "#000000"],
  x0: 992.5, x100: 1371, xEnd: 1406, axisY: 1456, axisTop: 1299, bandTop: 1313, bandBottom: 1444, gap: 0.33,
  titleX: 1176, titleY: 1288, sig: 32.9, sigY: [1338, 1411], labelDy: -5, labelPad: 13, legendFont: 21.5,
  legendX: 1413, legendW: 30, legendTextX: 1457, legendY: [1276, 1305, 1335, 1364, 1393, 1422, 1451] });
stackedBar({ title: "Natural Killer Cells", series: bar4Series, values: [bar4Tumor, bar4Stroma], errors: [bar4TumorErr, bar4StromaErr], colors: ["#ffffff", "#a4a4a8", "#858585", "#636363"],
  x0: 990, x100: 1370, xEnd: 1404, axisY: 1728, axisTop: 1570, bandTop: 1583, bandBottom: 1715, gap: 0.33,
  titleX: 1166, titleY: 1561, labelDy: 3, labelPad: 20, legendFont: 20,
  legendX: 1411, legendW: 27, legendTextX: 1450, legendY: [1602, 1629, 1657, 1684] });
txt(svg, 1192, 1775, "Cell Type (Percentage Total)", 28, { anchor: "middle", bold: true, stretch: 339 });
</script>
</body>
</html>
